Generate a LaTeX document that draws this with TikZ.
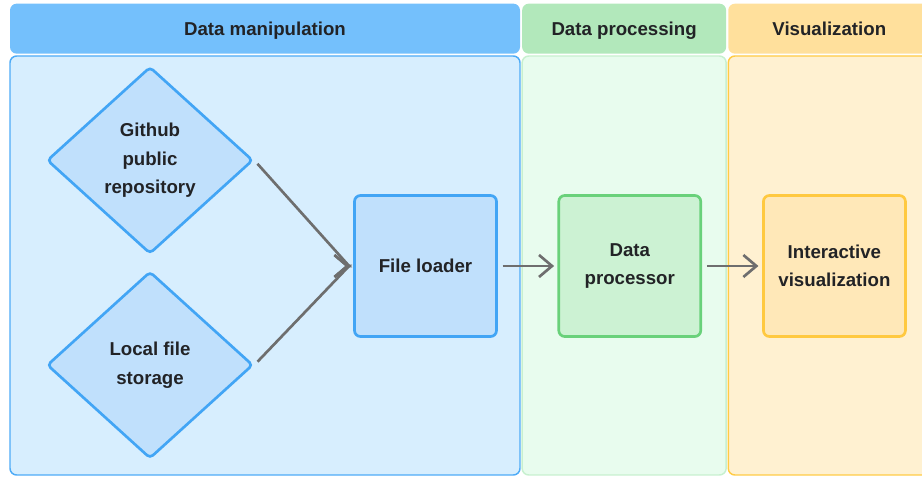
\documentclass[tikz,border=0pt]{standalone}
\usepackage{fontspec}
\setmainfont{Liberation Sans}
\usetikzlibrary{positioning,shapes.geometric,arrows.meta}

\definecolor{inkdark}{HTML}{222326}
\definecolor{arrowgray}{HTML}{6E6E6E}
\definecolor{hdrblue}{HTML}{74C0FC}
\definecolor{panelblue}{HTML}{D7EEFE}
\definecolor{panelblueline}{HTML}{4DABF7}
\definecolor{boxblue}{HTML}{C0E0FC}
\definecolor{boxblueline}{HTML}{42A5F5}
\definecolor{hdrgreen}{HTML}{B2E8BB}
\definecolor{panelgreen}{HTML}{E8FCEE}
\definecolor{panelgreenline}{HTML}{C7F0CF}
\definecolor{boxgreen}{HTML}{CCF2D3}
\definecolor{boxgreenline}{HTML}{69D17A}
\definecolor{hdrorange}{HTML}{FFE09C}
\definecolor{panelorange}{HTML}{FFF1D1}
\definecolor{panelorangeline}{HTML}{FFCB45}
\definecolor{boxorange}{HTML}{FFE8B8}
\definecolor{boxorangeline}{HTML}{FFC940}

\begin{document}
\begin{tikzpicture}[
	x=0.75pt, y=-0.75pt,
	font=\bfseries\fontsize{14}{21.3}\selectfont,
	text=inkdark,
	panel/.style={draw, rectangle, rounded corners=5pt, line width=1.1pt, minimum height=314.25pt},
	header/.style={rectangle, rounded corners=5pt, minimum height=37.5pt, inner sep=0pt, text depth=0pt},
	decision/.style={draw=boxblueline, fill=boxblue, diamond, line width=2pt, rounded corners=3pt,
		minimum width=154.5pt, minimum height=140.25pt, align=center, inner sep=0pt},
	stepbox/.style={rectangle, line width=2pt, rounded corners=4.5pt, minimum width=106.5pt,
		minimum height=105.75pt, align=center},
	flow/.style={draw=arrowgray, line width=2pt, -{Straight Barb[length=9.75pt,width=16.5pt]}, shorten <=3.5pt}
	]
	\useasboundingbox (0,0) rectangle (922,477);
	\clip (0,0) rectangle (922,477);

	% lanes
	\node[panel, draw=panelblueline, fill=panelblue, minimum width=382.5pt] (dmpanel) at (265,265.5) {};
	\node[panel, draw=panelgreenline, fill=panelgreen, minimum width=153pt, right=0.5pt of dmpanel] (dppanel) {};
	\node[panel, draw=panelorangeline, fill=panelorange, minimum width=151.5pt, right=0.5pt of dppanel] (vzpanel) {};

	\node[header, fill=hdrblue, minimum width=382.5pt, above=1pt of dmpanel] (dmhead) {Data manipulation};
	\node[header, fill=hdrgreen, minimum width=153pt, above=1pt of dppanel] (dphead) {Data processing};
	\node[header, fill=hdrorange, minimum width=151.5pt, above=1pt of vzpanel] (vzhead) {Visualization};

	% sources
	\node[decision] (gh) at (150,160.3) {Github\\public\\repository};
	\node[decision, below=11.3pt of gh] (lf) {Local file\\storage};

	% steps
	\node[stepbox, draw=boxblueline, fill=boxblue] (fl) at (425.5,266) {File loader};
	\node[stepbox, draw=boxgreenline, fill=boxgreen, right=44.7pt of fl] (dp) {Data\\processor};
	\node[stepbox, draw=boxorangeline, fill=boxorange, right=45pt of dp] (iv) {Interactive\\visualization};

	\coordinate (flin) at ([xshift=-2.75pt]fl.west);

	% both sources meet at one tip that points right
	\draw[flow] (gh.east) -- ([xshift=-0.3pt]flin) -- (flin);
	\draw[flow] (lf.east) -- ([xshift=-0.3pt]flin) -- (flin);
	\path (fl) edge[flow, shorten >=2.5pt] (dp)
	(dp) edge[flow, shorten >=2.75pt] (iv);

\end{tikzpicture}
\end{document}
